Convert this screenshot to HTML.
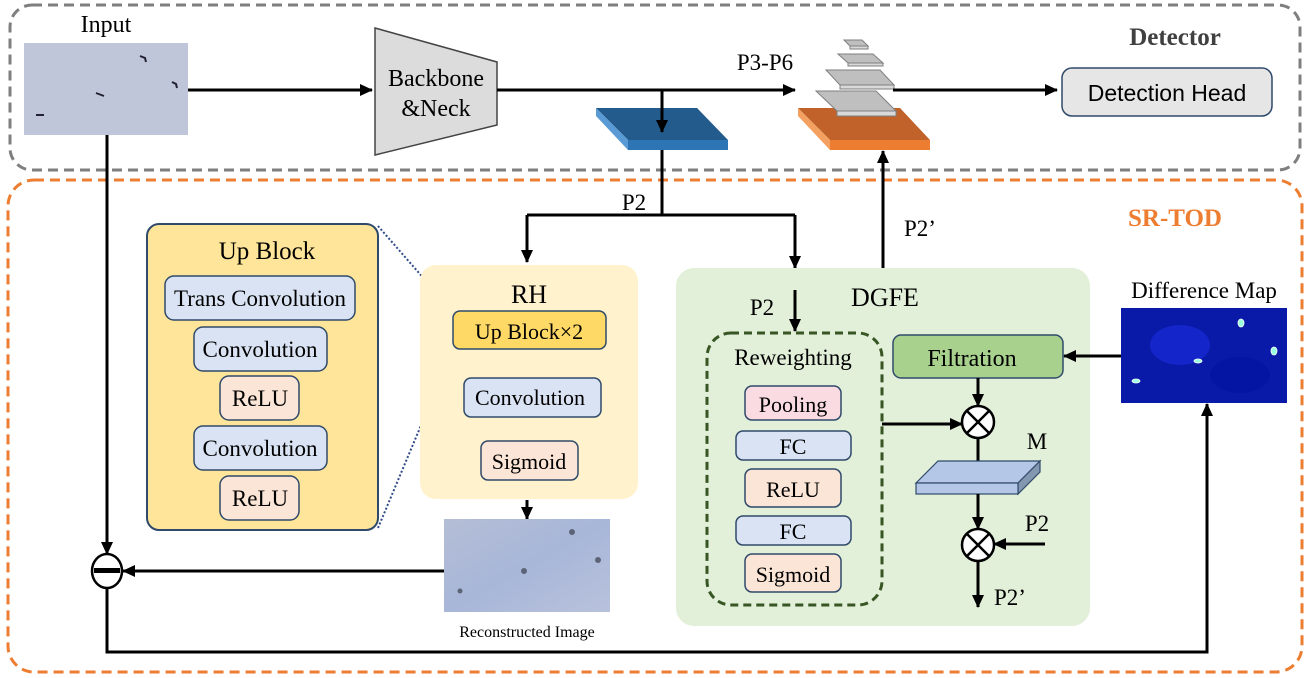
<!DOCTYPE html>
<html><head><meta charset="utf-8"><style>
html,body{margin:0;padding:0;background:#fff;}
svg{display:block;font-family:"Liberation Serif",serif;}
</style></head><body>
<svg width="1308" height="678" viewBox="0 0 1308 678" xmlns="http://www.w3.org/2000/svg">
<defs>
<marker id="a" markerWidth="13" markerHeight="12" refX="12" refY="6" orient="auto" markerUnits="userSpaceOnUse" viewBox="0 0 13 12"><path d="M0,0 L13,6 L0,12 z" fill="#000"/></marker>
<linearGradient id="rec" x1="0" y1="0" x2="1" y2="1"><stop offset="0" stop-color="#b4bed6"/><stop offset="0.5" stop-color="#a8b6d8"/><stop offset="1" stop-color="#b8c2dc"/></linearGradient>
</defs>
<rect x="10" y="5" width="1290" height="165" rx="22" fill="none" stroke="#7f7f7f" stroke-width="3" stroke-dasharray="10,6"/>
<rect x="8" y="180" width="1294" height="492" rx="26" fill="none" stroke="#ed7d31" stroke-width="3" stroke-dasharray="10,6"/>
<text x="1175" y="45" font-size="25" font-weight="bold" fill="#404040" text-anchor="middle">Detector</text>
<text x="1175" y="226" font-size="25" font-weight="bold" fill="#ed7d31" text-anchor="middle">SR-TOD</text>

<text x="106" y="32" font-size="24" text-anchor="middle">Input</text>
<rect x="24" y="43" width="164" height="92" fill="#c0c6da"/>
<path d="M140,56 l5,2 l1,4 M172,82 l4,2 l1,4 M96,93 l8,3 M36,115 l8,0" stroke="#223" stroke-width="2" fill="none"/>
<line x1="188" y1="90" x2="372" y2="90" stroke="#000" stroke-width="3" marker-end="url(#a)"/>
<polygon points="375,28 497,62 497,125 375,155" fill="#dcdcdc" stroke="#444" stroke-width="1.5"/>
<text x="436" y="86" font-size="24" text-anchor="middle">Backbone</text>
<text x="436" y="116" font-size="24" text-anchor="middle">&amp;Neck</text>
<line x1="497" y1="90" x2="795" y2="90" stroke="#000" stroke-width="3" marker-end="url(#a)"/>
<text x="765" y="70" font-size="23" text-anchor="middle">P3-P6</text>
<polygon points="596,108 697,108 728,140 628,140" fill="#235b8c"/>
<polygon points="596,108 628,140 628,150 596,116" fill="#5b9bd5"/>
<rect x="628" y="140" width="100" height="10" fill="#2e75b6"/>
<line x1="662" y1="90" x2="662" y2="132" stroke="#000" stroke-width="3" marker-end="url(#a)"/>
<polygon points="798,108 900,108 930,140 830,140" fill="#c0622a"/>
<polygon points="798,108 830,140 830,150 798,116" fill="#f4a060"/>
<rect x="830" y="140" width="100" height="10" fill="#ed7d31"/>
<g fill="#bfbfbf" stroke="#7f7f7f" stroke-width="1">
<polygon points="816,91 876,91 896,111 837,111"/><rect x="837" y="111" width="59" height="5" fill="#d9d9d9"/>
<polygon points="826,70 880,70 894,85 840,85"/><rect x="840" y="85" width="54" height="4" fill="#d9d9d9"/>
<polygon points="838,54 873,54 883,63 848,63"/><rect x="848" y="63" width="35" height="3" fill="#d9d9d9"/>
<polygon points="844,40 862,40 868,46 850,46"/><rect x="850" y="46" width="18" height="3" fill="#d9d9d9"/>
</g>
<line x1="893" y1="90" x2="1057" y2="90" stroke="#000" stroke-width="3" marker-end="url(#a)"/>
<rect x="1062" y="68" width="210" height="48" rx="10" fill="#e7e6e6" stroke="#2f4a6a" stroke-width="1.5"/>
<text x="1167" y="101" font-size="23" text-anchor="middle" font-family="Liberation Sans,sans-serif">Detection Head</text>

<path d="M662,150 V215 M527,215 H795" stroke="#000" stroke-width="3" fill="none"/>
<line x1="527" y1="215" x2="527" y2="262" stroke="#000" stroke-width="3" marker-end="url(#a)"/>
<line x1="795" y1="215" x2="795" y2="268" stroke="#000" stroke-width="3" marker-end="url(#a)"/>
<text x="634" y="210" font-size="23" text-anchor="middle">P2</text>
<line x1="883" y1="268" x2="883" y2="151" stroke="#000" stroke-width="3" marker-end="url(#a)"/>
<text x="920" y="236" font-size="23" text-anchor="middle">P2’</text>

<rect x="147" y="224" width="231" height="306" rx="12" fill="#fee599" stroke="#2f4a6a" stroke-width="2"/>
<text x="267" y="259" font-size="25" text-anchor="middle">Up Block</text>
<g stroke="#2f4a6a" stroke-width="1.5">
<rect x="165" y="276" width="190" height="44" rx="9" fill="#dae3f3"/>
<rect x="194" y="327" width="133" height="44" rx="9" fill="#dae3f3"/>
<rect x="220" y="376" width="79" height="44" rx="9" fill="#fbe5d6"/>
<rect x="194" y="426" width="133" height="44" rx="9" fill="#dae3f3"/>
<rect x="220" y="476" width="79" height="44" rx="9" fill="#fbe5d6"/>
</g>
<g font-size="23" text-anchor="middle">
<text x="260" y="306" textLength="172" lengthAdjust="spacingAndGlyphs">Trans Convolution</text>
<text x="260" y="357">Convolution</text>
<text x="260" y="406">ReLU</text>
<text x="260" y="456">Convolution</text>
<text x="260" y="506">ReLU</text>
</g>
<line x1="378" y1="226" x2="453" y2="312" stroke="#2f4a8a" stroke-width="2" stroke-dasharray="2,2"/>
<line x1="378" y1="528" x2="453" y2="349" stroke="#2f4a8a" stroke-width="2" stroke-dasharray="2,2"/>

<rect x="420" y="265" width="218" height="234" rx="16" fill="#fff2cc"/>
<text x="529" y="303" font-size="26" text-anchor="middle">RH</text>
<rect x="453" y="311" width="153" height="38" rx="7" fill="#ffd966" stroke="#2f4a6a" stroke-width="1.5"/>
<text x="529" y="339" font-size="22" text-anchor="middle">Up Block×2</text>
<rect x="464" y="378" width="137" height="39" rx="7" fill="#dae3f3" stroke="#2f4a6a" stroke-width="1.5"/>
<text x="530" y="405" font-size="22" text-anchor="middle">Convolution</text>
<rect x="481" y="441" width="97" height="39" rx="7" fill="#fbe5d6" stroke="#2f4a6a" stroke-width="1.5"/>
<text x="529" y="469" font-size="22" text-anchor="middle">Sigmoid</text>
<line x1="527" y1="500" x2="527" y2="519" stroke="#000" stroke-width="3" marker-end="url(#a)"/>
<rect x="444" y="519" width="166" height="93" fill="url(#rec)"/>
<g fill="#3a4050" opacity="0.7"><circle cx="572" cy="532" r="3"/><circle cx="598" cy="560" r="3"/><circle cx="524" cy="571" r="3"/><circle cx="460" cy="591" r="2.5"/></g>
<text x="527" y="637" font-size="16" text-anchor="middle">Reconstructed Image</text>
<line x1="444" y1="571" x2="123" y2="571" stroke="#000" stroke-width="3" marker-end="url(#a)"/>
<ellipse cx="107" cy="571" rx="15" ry="17" fill="#fff" stroke="#000" stroke-width="2.5"/>
<rect x="94" y="568" width="26" height="5" fill="#000"/>
<line x1="107" y1="135" x2="107" y2="554" stroke="#000" stroke-width="3" marker-end="url(#a)"/>
<path d="M107,588 V652 H1207 V408" stroke="#000" stroke-width="3" fill="none"/>
<line x1="1207" y1="420" x2="1207" y2="404" stroke="#000" stroke-width="3" marker-end="url(#a)"/>

<rect x="676" y="268" width="414" height="358" rx="18" fill="#e2efd9"/>
<text x="885" y="306" font-size="26" text-anchor="middle">DGFE</text>
<text x="762" y="315" font-size="23" text-anchor="middle">P2</text>
<line x1="795" y1="290" x2="795" y2="331" stroke="#000" stroke-width="3" marker-end="url(#a)"/>
<rect x="707" y="333" width="175" height="272" rx="24" fill="none" stroke="#375623" stroke-width="3" stroke-dasharray="8,5"/>
<text x="793" y="365" font-size="23" text-anchor="middle">Reweighting</text>
<g stroke="#2f4a6a" stroke-width="1.5">
<rect x="745" y="386" width="96" height="34" rx="7" fill="#fadbe2"/>
<rect x="736" y="431" width="115" height="29" rx="7" fill="#dae3f3"/>
<rect x="745" y="469" width="96" height="38" rx="7" fill="#fbe5d6"/>
<rect x="736" y="516" width="115" height="29" rx="7" fill="#dae3f3"/>
<rect x="745" y="554" width="96" height="38" rx="7" fill="#fbe5d6"/>
</g>
<g font-size="22" text-anchor="middle">
<text x="793" y="412">Pooling</text>
<text x="793" y="454">FC</text>
<text x="793" y="497">ReLU</text>
<text x="793" y="539">FC</text>
<text x="793" y="582">Sigmoid</text>
</g>
<rect x="893" y="335" width="170" height="43" rx="8" fill="#a9d18e" stroke="#2f4a6a" stroke-width="1.5"/>
<text x="972" y="366" font-size="24" text-anchor="middle">Filtration</text>
<line x1="1121" y1="356" x2="1064" y2="356" stroke="#000" stroke-width="3" marker-end="url(#a)"/>
<line x1="978" y1="378" x2="978" y2="406" stroke="#000" stroke-width="3" marker-end="url(#a)"/>
<line x1="882" y1="424" x2="962" y2="424" stroke="#000" stroke-width="3" marker-end="url(#a)"/>
<g stroke="#000" stroke-width="2.5" fill="#fff">
<circle cx="978" cy="422" r="16"/><path d="M967,411 L989,433 M989,411 L967,433"/>
<circle cx="978" cy="545" r="16"/><path d="M967,534 L989,556 M989,534 L967,556"/>
</g>
<text x="1037" y="449" font-size="23" text-anchor="middle">M</text>
<line x1="978" y1="438" x2="978" y2="474" stroke="#000" stroke-width="3" marker-end="url(#a)"/>
<polygon points="916,483 1018,483 1040,461 938,461" fill="#b4c7e7" stroke="#2f4a6a" stroke-width="1.2"/>
<polygon points="1018,483 1040,461 1040,472 1018,494" fill="#8497b0" stroke="#2f4a6a" stroke-width="1.2"/>
<rect x="916" y="483" width="102" height="11" fill="#b4c7e7" stroke="#2f4a6a" stroke-width="1.2"/>
<line x1="978" y1="494" x2="978" y2="529" stroke="#000" stroke-width="3" marker-end="url(#a)"/>
<line x1="1045" y1="544" x2="994" y2="544" stroke="#000" stroke-width="3" marker-end="url(#a)"/>
<text x="1037" y="531" font-size="23" text-anchor="middle">P2</text>
<line x1="978" y1="561" x2="978" y2="607" stroke="#000" stroke-width="3" marker-end="url(#a)"/>
<text x="1010" y="605" font-size="23" text-anchor="middle">P2’</text>

<text x="1204" y="298" font-size="23" text-anchor="middle">Difference Map</text>
<rect x="1121" y="308" width="166" height="95" fill="#0a1aa8"/>
<ellipse cx="1180" cy="345" rx="30" ry="20" fill="#1a2ee0" opacity="0.6"/>
<ellipse cx="1240" cy="375" rx="30" ry="18" fill="#0010a0" opacity="0.6"/>
<g fill="#9fd" stroke="#fff" stroke-width="0.8"><ellipse cx="1241" cy="323" rx="3" ry="4"/><ellipse cx="1274" cy="351" rx="3" ry="4"/><ellipse cx="1198" cy="361" rx="4" ry="2"/><ellipse cx="1136" cy="381" rx="4" ry="2"/></g>
</svg>
</body></html>
